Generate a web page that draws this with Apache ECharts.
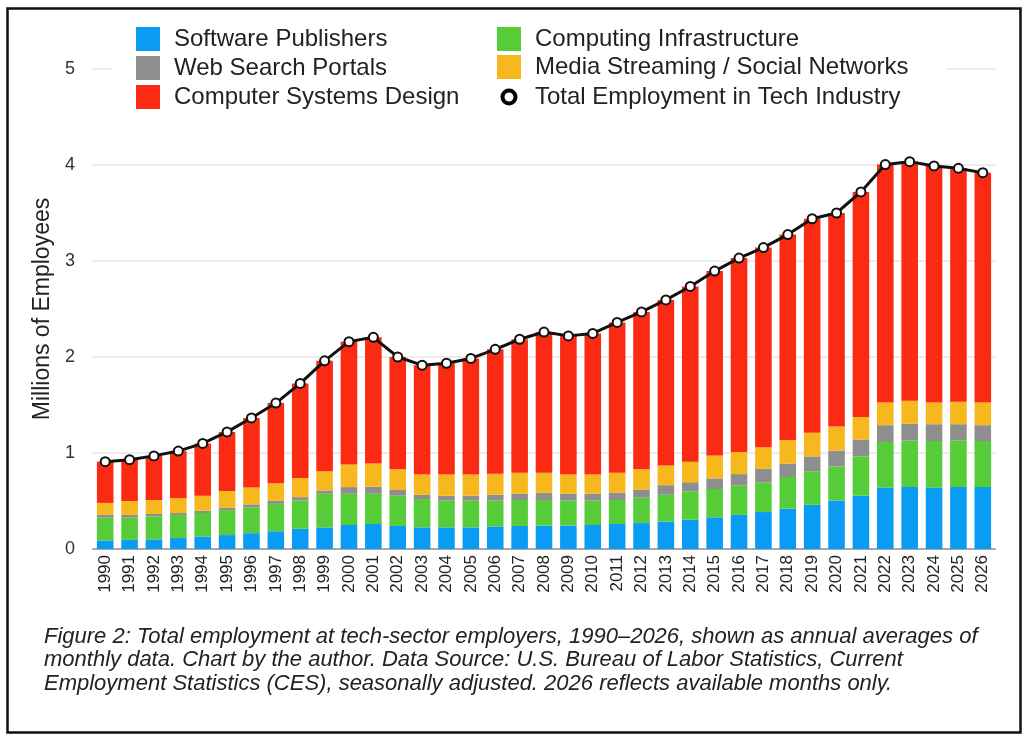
<!DOCTYPE html>
<html>
<head>
<meta charset="utf-8">
<script src="https://cdn.jsdelivr.net/npm/echarts@6/dist/echarts.min.js"></script>
<style>html,body{margin:0;padding:0;background:#fff}#c{width:1024px;height:736px}</style>
</head>
<body>
<div id="c"></div>
<script>
const years = ['1990','1991','1992','1993','1994','1995','1996','1997','1998','1999','2000','2001','2002','2003','2004','2005','2006','2007','2008','2009','2010','2011','2012','2013','2014','2015','2016','2017','2018','2019','2020','2021','2022','2023','2024','2025','2026'];
const softwarePublishers = [0.09,0.095,0.10,0.115,0.13,0.145,0.165,0.185,0.21,0.225,0.25,0.26,0.24,0.225,0.225,0.225,0.235,0.24,0.245,0.245,0.25,0.26,0.27,0.285,0.305,0.33,0.355,0.385,0.42,0.46,0.505,0.555,0.64,0.645,0.64,0.645,0.645];
const computingInfrastructure = [0.24,0.235,0.24,0.24,0.245,0.26,0.27,0.285,0.295,0.35,0.325,0.315,0.315,0.295,0.28,0.28,0.27,0.27,0.265,0.26,0.255,0.25,0.265,0.28,0.295,0.295,0.305,0.31,0.33,0.35,0.355,0.41,0.475,0.485,0.485,0.485,0.48];
const webSearchPortals = [0.025,0.025,0.025,0.02,0.025,0.025,0.03,0.035,0.035,0.035,0.07,0.075,0.06,0.045,0.05,0.05,0.06,0.065,0.075,0.07,0.07,0.075,0.085,0.10,0.095,0.11,0.12,0.14,0.14,0.155,0.165,0.175,0.175,0.175,0.175,0.17,0.165];
const mediaStreaming = [0.125,0.145,0.145,0.155,0.155,0.175,0.175,0.18,0.20,0.20,0.235,0.24,0.215,0.21,0.22,0.22,0.22,0.22,0.21,0.20,0.20,0.21,0.21,0.205,0.215,0.24,0.23,0.225,0.245,0.245,0.25,0.235,0.235,0.24,0.225,0.235,0.235];
const computerSystemsDesign = [0.43,0.43,0.46,0.49,0.545,0.615,0.725,0.835,0.985,1.15,1.28,1.315,1.17,1.14,1.16,1.21,1.295,1.39,1.465,1.445,1.47,1.565,1.64,1.725,1.825,1.92,2.02,2.08,2.14,2.23,2.225,2.345,2.48,2.49,2.465,2.43,2.395];
const totalEmployment = [0.91,0.93,0.97,1.02,1.10,1.22,1.365,1.52,1.725,1.96,2.16,2.205,2.00,1.915,1.935,1.985,2.08,2.185,2.26,2.22,2.245,2.36,2.47,2.595,2.735,2.895,3.03,3.14,3.275,3.44,3.50,3.72,4.005,4.035,3.99,3.965,3.92];
const yTicks = [0,1,2,3,4,5];
const caption = [
  'Figure 2: Total employment at tech-sector employers, 1990\u20132026, shown as annual averages of',
  'monthly data. Chart by the author. Data Source: U.S. Bureau of Labor Statistics, Current',
  'Employment Statistics (CES), seasonally adjusted. 2026 reflects available months only.'
];

const FONT = '"Liberation Sans", Arial, Helvetica, sans-serif';
const colors = {
  sp: '#0a9cf5', ci: '#55cc38', ws: '#8e8e8e', ms: '#f6b81c', cs: '#fb2a12'
};
function barSeries(name, data, color) {
  return {
    name, type: 'bar', stack: 'tech', data,
    barCategoryGap: '32%',
    itemStyle: { color },
    emphasis: { disabled: true }
  };
}
const ringIcon = 'path://M0,0M24,24M18.5,12A6.5,6.5,0,1,1,5.5,12A6.5,6.5,0,1,1,18.5,12Z';
const legendText = { fontSize: 24, lineHeight: 24, color: '#222', fontFamily: FONT, padding: [0, 0, 0, 9] };

const chart = echarts.init(document.getElementById('c'), null, { renderer: 'canvas' });
chart.setOption({
  animation: false,
  backgroundColor: '#fff',
  textStyle: { fontFamily: FONT },
  grid: { left: 93, right: 29, top: 69, bottom: 187, containLabel: false },
  legend: [
    {
      orient: 'vertical', left: 112, top: 21,
      padding: [6, 30, 6, 24],
      backgroundColor: '#fff',
      itemWidth: 24, itemHeight: 24, itemGap: 5,
      textStyle: legendText,
      selectedMode: false,
      data: [
        { name: 'Software Publishers', icon: 'rect' },
        { name: 'Web Search Portals', icon: 'rect' },
        { name: 'Computer Systems Design', icon: 'rect' }
      ]
    },
    {
      orient: 'vertical', left: 488, top: 21,
      padding: [6, 38, 6, 7],
      backgroundColor: '#fff',
      itemWidth: 24, itemHeight: 24, itemGap: 4,
      textStyle: legendText,
      selectedMode: false,
      data: [
        { name: 'Computing Infrastructure', icon: 'rect' },
        { name: 'Media Streaming / Social Networks', icon: 'rect' },
        { name: 'Total Employment in Tech Industry', icon: ringIcon,
          itemStyle: { color: '#fff', borderColor: '#000', borderWidth: 4 } }
      ]
    }
  ],
  xAxis: {
    type: 'category', data: years,
    axisLine: { show: true, lineStyle: { color: '#a8a8a8', width: 2 } },
    axisTick: { show: false },
    axisLabel: { rotate: 90, fontSize: 17, color: '#222', margin: 6, interval: 0, fontFamily: FONT }
  },
  yAxis: {
    type: 'value', min: 0, max: 5, interval: 1,
    name: 'Millions of Employees', nameLocation: 'middle', nameRotate: 90, nameGap: 38,
    nameTextStyle: { fontSize: 23, color: '#222', fontFamily: FONT },
    axisLine: { show: false }, axisTick: { show: false },
    axisLabel: { fontSize: 18, color: '#333', margin: 18, fontFamily: FONT,
      formatter: v => yTicks.includes(v) ? String(v) : '' },
    splitLine: { lineStyle: { color: '#e6e6e6', width: 1.5 } }
  },
  series: [
    barSeries('Software Publishers', softwarePublishers, colors.sp),
    barSeries('Computing Infrastructure', computingInfrastructure, colors.ci),
    barSeries('Web Search Portals', webSearchPortals, colors.ws),
    barSeries('Media Streaming / Social Networks', mediaStreaming, colors.ms),
    barSeries('Computer Systems Design', computerSystemsDesign, colors.cs),
    {
      name: 'Total Employment in Tech Industry', type: 'line', data: totalEmployment,
      symbol: 'emptyCircle', symbolSize: 9, z: 5,
      lineStyle: { color: '#111', width: 3 },
      itemStyle: { color: '#111', borderColor: '#111', borderWidth: 3.5 },
      emphasis: { disabled: true }
    }
  ],
  graphic: [
    {
      type: 'rect', left: 5, top: 6, z: 100,
      shape: { width: 1013, height: 724 },
      style: { fill: 'none', stroke: '#111', lineWidth: 2.5 },
      silent: true
    },
    {
      type: 'text', left: 44, top: 625, z: 100,
      style: {
        text: caption.join('\n'),
        font: 'italic 22px ' + FONT,
        fill: '#222',
        lineHeight: 23.5
      }
    }
  ]
});
</script>
</body>
</html>
